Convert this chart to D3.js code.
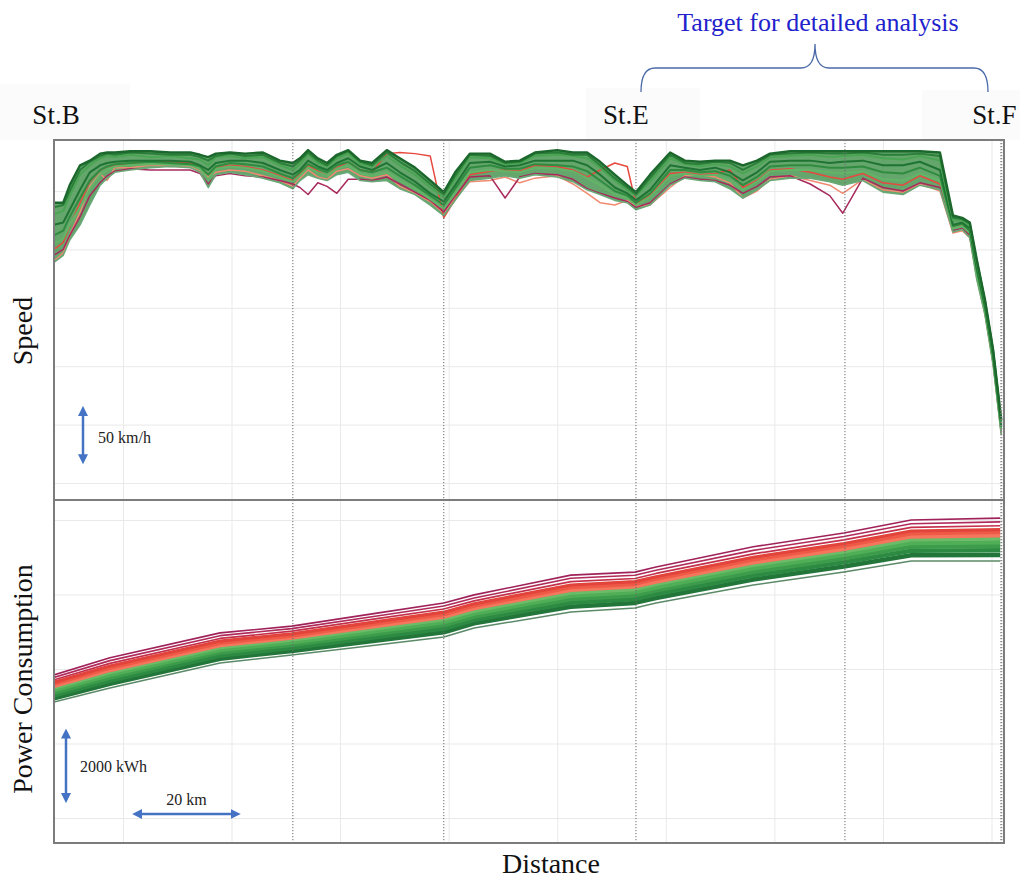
<!DOCTYPE html>
<html>
<head>
<meta charset="utf-8">
<script src="https://cdn.jsdelivr.net/npm/d3@7"></script>
<style>
  html, body { margin: 0; padding: 0; background: #ffffff; }
  svg { display: block; font-family: "Liberation Serif", "Times New Roman", serif; }
</style>
</head>
<body>
<svg id="chart" width="1020" height="882"></svg>
<script>
// ---- stations along the line (km) ----
const stationKm = [7.3, 51.3, 79.1, 114.5, 153.0, 181.8];
const stationNames = ["St.B", "", "", "St.E", "", "St.F"];

// ---- gridline values ----
const gridKm = [20, 40, 60, 80, 100, 120, 140, 160, 180];
const speedGrid = [50, 100, 150, 200, 250, 300];
const powerGrid = [2000, 4000, 6000, 8000, 10000];

// ---- speed records (km/h) sampled at these distances (km) ----
const speedKm = [7.3, 9.0, 10.2, 12.1, 13.9, 15.8, 17.1, 18.5, 21.3, 25.0,
  28.7, 32.4, 34.2, 35.7, 37.1, 39.7, 42.5, 45.8, 48.9, 51.3,
  52.6, 54.1, 55.9, 57.6, 59.4, 61.5, 63.7, 65.9, 68.6, 71.0,
  73.8, 76.6, 79.1, 81.2, 83.9, 87.6, 90.4, 93.1, 95.9, 100.0,
  102.9, 105.5, 107.9, 110.6, 112.9, 114.5, 117.1, 120.8, 123.5, 126.3,
  129.1, 131.8, 134.2, 136.8, 139.2, 142.9, 146.6, 150.2, 152.6, 156.3,
  160.0, 163.7, 166.8, 170.5, 172.9, 174.6, 176.0, 177.3, 178.8, 180.3, 181.8];

const speedFast = [290, 290, 305, 322, 326, 332, 333, 333, 334, 334,
  333, 333, 331, 329, 332, 333, 332, 333, 326, 324,
  328, 335, 328, 324, 331, 335, 326, 324, 335, 328,
  320, 309, 299, 316, 332, 332, 325, 326, 333, 335,
  333, 333, 325, 314, 305, 299, 314, 333, 326, 325,
  326, 326, 322, 326, 332, 334, 334, 334, 334, 334,
  334, 334, 334, 333, 279, 277, 273, 241, 207, 164, 104];

const speedFast2 = [286, 288, 300, 318, 325, 330, 332, 331, 333, 332,
  331, 331, 329, 326, 330, 332, 330, 331, 324, 321,
  326, 333, 326, 322, 330, 334, 325, 322, 333, 325,
  317, 306, 297, 313, 331, 330, 324, 325, 332, 333,
  331, 331, 322, 311, 303, 297, 311, 331, 324, 323,
  325, 324, 318, 324, 331, 332, 333, 332, 332, 333,
  331, 331, 332, 330, 277, 276, 272, 240, 206, 163, 103];

const speedUpperMid = [280, 283, 296, 314, 322, 328, 330, 329, 331, 329,
  330, 328, 327, 322, 329, 330, 328, 329, 322, 318,
  323, 331, 324, 321, 328, 332, 323, 321, 330, 322,
  314, 303, 295, 310, 329, 328, 323, 324, 330, 331,
  330, 328, 320, 309, 301, 296, 308, 328, 323, 321,
  323, 321, 315, 321, 329, 330, 331, 329, 330, 331,
  328, 327, 330, 326, 275, 275, 270, 238, 205, 162, 102];

const speedMid = [271, 273, 284, 301, 316, 322, 324, 325, 326, 326,
  326, 325, 322, 318, 324, 326, 326, 324, 318, 314,
  318, 326, 321, 318, 324, 328, 321, 318, 324, 316,
  308, 298, 291, 305, 324, 325, 321, 322, 326, 326,
  326, 322, 314, 303, 298, 292, 301, 322, 320, 318,
  320, 316, 309, 316, 325, 326, 326, 324, 325, 326,
  322, 322, 325, 318, 271, 273, 268, 234, 202, 160, 100];

const speedMid2 = [262, 266, 278, 294, 309, 318, 321, 323, 324, 325,
  324, 323, 321, 314, 321, 324, 323, 321, 315, 311,
  316, 323, 319, 316, 322, 325, 318, 316, 320, 313,
  305, 296, 288, 302, 320, 322, 319, 319, 323, 322,
  321, 317, 309, 300, 296, 290, 298, 318, 318, 316,
  317, 313, 305, 312, 321, 322, 322, 320, 320, 321,
  316, 315, 320, 313, 270, 272, 266, 232, 200, 158, 98];

const speedLowerMid = [255, 259, 271, 286, 302, 314, 318, 321, 322, 323,
  323, 322, 319, 310, 319, 321, 320, 317, 312, 308,
  313, 320, 316, 313, 319, 322, 315, 313, 316, 309,
  302, 293, 285, 298, 316, 318, 317, 316, 320, 319,
  317, 311, 305, 297, 294, 288, 295, 313, 315, 313,
  314, 309, 301, 308, 317, 318, 318, 316, 315, 317,
  310, 309, 315, 309, 268, 270, 264, 229, 198, 156, 96];

const speedSlow = [239, 245, 258, 271, 288, 305, 311, 316, 318, 320,
  321, 320, 316, 303, 314, 316, 314, 311, 307, 302,
  309, 314, 311, 309, 314, 316, 309, 308, 309, 302,
  297, 288, 279, 292, 309, 311, 313, 311, 314, 312,
  308, 301, 297, 292, 290, 284, 288, 305, 311, 309,
  308, 302, 294, 301, 309, 311, 311, 308, 305, 309,
  299, 297, 305, 301, 265, 267, 260, 224, 194, 151, 91];

const speedHighUse1 = [245, 250, 262, 278, 296, 307, 313, 317, 319, 318,
  318, 318, 315, 306, 313, 315, 313, 312, 309, 306,
  303, 297, 307, 304, 298, 310, 310, 309, 312, 306,
  299, 292, 282, 296, 312, 313, 294, 312, 315, 314,
  310, 302, 298, 294, 291, 286, 290, 306, 312, 310,
  309, 305, 298, 304, 312, 313, 306, 296, 281, 311,
  303, 300, 307, 303, 266, 268, 262, 227, 196, 153, 93];

const speedHighUse2 = [240, 247, 262, 282, 304, 315, 309, 320, 320, 322,
  321, 321, 317, 312, 316, 318, 317, 313, 309, 304,
  311, 318, 312, 310, 317, 319, 313, 311, 314, 304,
  298, 291, 281, 294, 308, 309, 312, 307, 311, 313,
  306, 298, 290, 288, 292, 287, 288, 303, 313, 314,
  312, 307, 294, 300, 310, 313, 309, 305, 298, 310,
  301, 299, 306, 300, 264, 266, 260, 225, 194, 152, 92];

const speedHighUse3 = [250, 256, 270, 290, 308, 318, 321, 322, 324, 325,
  325, 324, 321, 314, 320, 322, 321, 318, 313, 309,
  315, 322, 317, 313, 320, 325, 318, 316, 332, 333,
  332, 330, 277, 293, 314, 317, 318, 317, 322, 321,
  318, 312, 318, 324, 321, 289, 296, 315, 316, 314,
  315, 318, 303, 309, 318, 319, 316, 312, 310, 315,
  307, 305, 313, 306, 270, 271, 265, 230, 199, 157, 97];

// ---- cumulative power consumption (kWh) sampled at these distances (km) ----
const powerKm = [7.3, 17.6, 37.9, 51.1, 66.8, 79.1, 84.7, 102.5, 114.3, 118.2, 136.1, 152.8, 165.2, 181.6];
const power01 = [5840, 6300, 6970, 7150, 7500, 7770, 7990, 8520, 8600, 8740, 9280, 9650, 10000, 10050];
const power02 = [5775, 6225, 6895, 7085, 7425, 7690, 7905, 8435, 8515, 8650, 9185, 9555, 9900, 9950];
const power03 = [5710, 6150, 6820, 7015, 7350, 7610, 7830, 8345, 8430, 8565, 9090, 9465, 9800, 9845];
const power04 = [5645, 6080, 6750, 6945, 7270, 7525, 7750, 8255, 8345, 8475, 9000, 9370, 9705, 9740];
const power05 = [5600, 6030, 6700, 6895, 7220, 7470, 7695, 8195, 8285, 8420, 8940, 9305, 9635, 9675];
const power06 = [5550, 5975, 6645, 6845, 7160, 7405, 7635, 8125, 8220, 8350, 8865, 9230, 9560, 9590];
const power07 = [5500, 5915, 6590, 6790, 7100, 7345, 7570, 8055, 8150, 8285, 8795, 9160, 9485, 9510];
const power08 = [5435, 5845, 6515, 6720, 7020, 7260, 7490, 7965, 8065, 8195, 8705, 9065, 9385, 9405];
const power09 = [5370, 5770, 6445, 6650, 6945, 7180, 7410, 7880, 7975, 8110, 8610, 8970, 9285, 9305];
const power10 = [5295, 5690, 6360, 6570, 6860, 7085, 7320, 7780, 7880, 8015, 8510, 8865, 9175, 9190];
const power11 = [5215, 5605, 6275, 6485, 6765, 6985, 7225, 7670, 7775, 7905, 8400, 8750, 9055, 9060];
const power12 = [5115, 5490, 6160, 6375, 6645, 6860, 7100, 7530, 7640, 7770, 8255, 8605, 8900, 8900];

// ---- scale bars ----
const speedBar = [66, 116];        // km/h
const powerBar = [2400, 4400];     // kWh
const distBar = [21.7, 41.7];      // km

// ================= drawing =================
const svg = d3.select("#chart");
const W = 1020, H = 882;
const left = 54, right = 1004;
const topY = 140, midY = 500, botY = 843;

const x = d3.scaleLinear().domain([7.3, 182.3]).range([left, right]);
const ySpeed = d3.scaleLinear().domain([0, 300]).range([541.4, 191]);
const yPower = d3.scaleLinear().domain([0, 10000]).range([892.5, 520]);

svg.append("rect").attr("width", W).attr("height", H).attr("fill", "#ffffff");

// faint label panels behind station names
const labelBoxes = [[0, 84, 130, 56], [586, 88, 114, 52], [922, 90, 98, 50]];
svg.selectAll("rect.lbox").data(labelBoxes).enter().append("rect")
  .attr("class", "lbox")
  .attr("x", d => d[0]).attr("y", d => d[1]).attr("width", d => d[2]).attr("height", d => d[3])
  .attr("fill", "#fbfbfb");

const defs = svg.append("defs");
defs.append("clipPath").attr("id", "clipTop").append("rect")
  .attr("x", left).attr("y", topY).attr("width", right - left).attr("height", midY - topY);
defs.append("clipPath").attr("id", "clipBot").append("rect")
  .attr("x", left).attr("y", midY).attr("width", right - left).attr("height", botY - midY);

// ---- gridlines ----
function styleGrid(g) {
  g.select(".domain").remove();
  g.selectAll(".tick line").attr("stroke", "#e9e9e9").attr("stroke-width", 1);
  g.selectAll(".tick text").remove();
}
svg.append("g").attr("transform", `translate(0,${midY})`)
  .call(d3.axisBottom(x).tickValues(gridKm).tickSize(-(midY - topY)).tickFormat(""))
  .call(styleGrid);
svg.append("g").attr("transform", `translate(0,${botY})`)
  .call(d3.axisBottom(x).tickValues(gridKm).tickSize(-(botY - midY)).tickFormat(""))
  .call(styleGrid);
svg.append("g").attr("transform", `translate(${left},0)`)
  .call(d3.axisLeft(ySpeed).tickValues(speedGrid).tickSize(-(right - left)).tickFormat(""))
  .call(styleGrid);
svg.append("g").attr("transform", `translate(${left},0)`)
  .call(d3.axisLeft(yPower).tickValues(powerGrid).tickSize(-(right - left)).tickFormat(""))
  .call(styleGrid);

// ---- speed panel ----
const speedTop = svg.append("g").attr("clip-path", "url(#clipTop)");

const speedBand = speedKm.map((k, i) => ({ k, hi: speedFast[i], lo: speedSlow[i] }));
speedTop.append("path").datum(speedBand)
  .attr("fill", "#3a8d44").attr("fill-opacity", 0.78)
  .attr("d", d3.area().x(d => x(d.k)).y0(d => ySpeed(d.lo)).y1(d => ySpeed(d.hi)));

const speedLine = d3.line().x(d => x(d[0])).y(d => ySpeed(d[1]));
const speedRuns = [
  { v: speedHighUse2, c: "#f08a70", w: 1.5 },
  { v: speedHighUse3, c: "#e64a3e", w: 1.5 },
  { v: speedHighUse1, c: "#a82a5c", w: 1.5 },
  { v: speedSlow, c: "#6aa877", w: 1.6 },
  { v: speedLowerMid, c: "#62b566", w: 2 },
  { v: speedMid2, c: "#2f8c3f", w: 2 },
  { v: speedMid, c: "#1f7434", w: 2 },
  { v: speedUpperMid, c: "#4aa552", w: 2 },
  { v: speedFast2, c: "#2a7f38", w: 2 },
  { v: speedFast, c: "#1b672c", w: 2.4 }
];
speedTop.selectAll("path.srun").data(speedRuns).enter().append("path")
  .attr("class", "srun")
  .attr("fill", "none")
  .attr("stroke", d => d.c)
  .attr("stroke-width", d => d.w)
  .attr("stroke-linejoin", "round")
  .attr("d", d => speedLine(speedKm.map((k, i) => [k, d.v[i]])));

// ---- power panel ----
const powerBot = svg.append("g").attr("clip-path", "url(#clipBot)");
const powerLine = d3.line().x(d => x(d[0])).y(d => yPower(d[1]));
const powerRuns = [
  { v: power12, c: "#5b8a68", w: 1.5 },
  { v: power11, c: "#23763a", w: 4.5 },
  { v: power10, c: "#2d8a42", w: 4.5 },
  { v: power09, c: "#3d9c4b", w: 4.5 },
  { v: power08, c: "#4fae56", w: 4.5 },
  { v: power07, c: "#6cbb69", w: 4.5 },
  { v: power06, c: "#f5765c", w: 4.5 },
  { v: power05, c: "#ee5a47", w: 4 },
  { v: power04, c: "#e2433b", w: 3.2 },
  { v: power03, c: "#c4304c", w: 1.7 },
  { v: power02, c: "#b02a5a", w: 1.6 },
  { v: power01, c: "#a0225a", w: 1.6 }
];
powerBot.selectAll("path.prun").data(powerRuns).enter().append("path")
  .attr("class", "prun")
  .attr("fill", "none")
  .attr("stroke", d => d.c)
  .attr("stroke-width", d => d.w)
  .attr("stroke-linejoin", "round")
  .attr("d", d => powerLine(powerKm.map((k, i) => [k, d.v[i]])));

// ---- station dotted lines ----
svg.selectAll("line.station").data(stationKm.slice(1)).enter().append("line")
  .attr("class", "station")
  .attr("x1", d => x(d)).attr("x2", d => x(d))
  .attr("y1", topY).attr("y2", botY)
  .attr("stroke", (d, i, n) => i === n.length - 1 ? "#8a8a8a" : "#6a6a6a")
  .attr("stroke-width", (d, i, n) => i === n.length - 1 ? 2 : 1)
  .attr("stroke-dasharray", "1.2,1.8");

// ---- frames ----
svg.append("rect").attr("x", left).attr("y", topY).attr("width", right - left).attr("height", botY - topY)
  .attr("fill", "none").attr("stroke", "#7c7c7c").attr("stroke-width", 2);
svg.append("line").attr("x1", left).attr("x2", right).attr("y1", midY).attr("y2", midY)
  .attr("stroke", "#7c7c7c").attr("stroke-width", 2);

// ---- scale bars ----
const barColor = "#4472c4";
defs.append("marker").attr("id", "arrowHead")
  .attr("viewBox", "0 0 10 10").attr("refX", 6).attr("refY", 5)
  .attr("markerWidth", 4).attr("markerHeight", 4).attr("orient", "auto-start-reverse")
  .append("path").attr("d", "M0,0 L10,5 L0,10 z").attr("fill", barColor);

function bar(x1, y1, x2, y2) {
  svg.append("line").attr("x1", x1).attr("y1", y1).attr("x2", x2).attr("y2", y2)
    .attr("stroke", barColor).attr("stroke-width", 2.5)
    .attr("marker-start", "url(#arrowHead)").attr("marker-end", "url(#arrowHead)");
}
bar(83, ySpeed(speedBar[0]) - 4, 83, ySpeed(speedBar[1]) + 4);
bar(66, yPower(powerBar[0]) - 4, 66, yPower(powerBar[1]) + 4);
bar(x(distBar[0]) + 4, 814, x(distBar[1]) - 4, 814);

svg.append("text").attr("x", 98).attr("y", 443).attr("font-size", 16).attr("fill", "#222").text("50 km/h");
svg.append("text").attr("x", 80).attr("y", 772).attr("font-size", 16).attr("fill", "#222").text("2000 kWh");
svg.append("text").attr("x", (x(distBar[0]) + x(distBar[1])) / 2).attr("y", 805)
  .attr("text-anchor", "middle").attr("font-size", 16).attr("fill", "#222").text("20 km");

// ---- station labels ----
const labelShift = [2, 0, 0, -10, 0, -7];
svg.selectAll("text.st").data(stationKm.map((k, i) => ({ k, n: stationNames[i], dx: labelShift[i] }))
    .filter(d => d.n)).enter().append("text")
  .attr("class", "st")
  .attr("x", d => x(d.k) + d.dx).attr("y", 124)
  .attr("text-anchor", "middle").attr("font-size", 27).attr("fill", "#111")
  .text(d => d.n);

// ---- analysis bracket ----
const bx1 = 641, bx2 = 988, bxm = 815, by = 68;
svg.append("path")
  .attr("d", `M${bx1},92 Q${bx1},${by} ${bx1 + 14},${by} L${bxm - 14},${by} Q${bxm},${by} ${bxm},44 ` +
             `Q${bxm},${by} ${bxm + 14},${by} L${bx2 - 14},${by} Q${bx2},${by} ${bx2},92`)
  .attr("fill", "none").attr("stroke", "#4a6aa8").attr("stroke-width", 1.3);
svg.append("text").attr("x", 818).attr("y", 31).attr("text-anchor", "middle")
  .attr("font-size", 26).attr("fill", "#2222cc").text("Target for detailed analysis");

// ---- axis titles ----
svg.append("text").attr("transform", "translate(32,331) rotate(-90)")
  .attr("text-anchor", "middle").attr("font-size", 28).attr("fill", "#111").text("Speed");
svg.append("text").attr("transform", "translate(32,679) rotate(-90)")
  .attr("text-anchor", "middle").attr("font-size", 28).attr("fill", "#111").text("Power Consumption");
svg.append("text").attr("x", 551).attr("y", 873)
  .attr("text-anchor", "middle").attr("font-size", 28).attr("fill", "#111").text("Distance");
</script>
</body>
</html>
